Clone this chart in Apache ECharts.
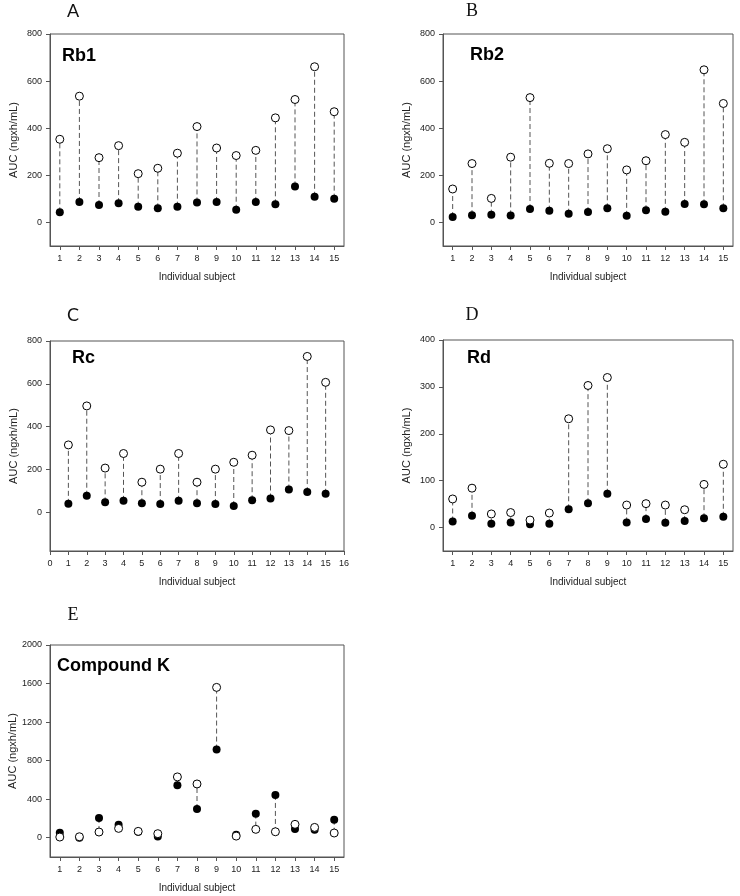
<!DOCTYPE html>
<html>
<head>
<meta charset="utf-8">
<script src="https://cdn.jsdelivr.net/npm/echarts@6/dist/echarts.min.js"></script>
<style>
html,body{margin:0;padding:0;background:#fff;}
#chart{width:740px;height:896px;}
</style>
</head>
<body>
<div id="chart"></div>
<script>
// ---- data ----
var subjects = [1,2,3,4,5,6,7,8,9,10,11,12,13,14,15];

var rb1Open   = [353,536,275,326,207,230,294,407,316,284,306,444,522,661,470];
var rb1Filled = [43,87,74,82,67,60,67,85,87,54,87,77,153,109,101];

var rb2Open   = [142,250,102,277,530,251,250,291,313,223,262,373,340,648,505];
var rb2Filled = [23,31,33,30,57,50,37,44,60,28,52,45,78,77,60];

var rcOpen    = [315,497,207,275,141,202,275,141,202,234,267,385,382,728,607];
var rcFilled  = [40,78,47,54,43,39,54,43,39,30,57,65,107,95,87];

var rdOpen    = [61,84,29,32,16,31,232,303,320,48,51,48,38,92,135];
var rdFilled  = [13,25,8,11,7,8,39,52,72,11,18,10,14,20,23];

var ckOpen    = [7,10,59,97,66,42,631,558,1560,17,87,62,139,107,49];
var ckFilled  = [52,0,205,135,62,14,544,298,915,31,250,444,90,83,187];

var ticksA = [0,200,400,600,800];
var ticksD = [0,100,200,300,400];
var ticksE = [0,400,800,1200,1600,2000];
var ticksXC = [0,1,2,3,4,5,6,7,8,9,10,11,12,13,14,15,16];

var panels = [
  {letter:'A', name:'Rb1', open:rb1Open, filled:rb1Filled, ymin:-100, ymax:800, yticks:ticksA, xmin:0.5, xmax:15.5, xticks:subjects},
  {letter:'B', name:'Rb2', open:rb2Open, filled:rb2Filled, ymin:-100, ymax:800, yticks:ticksA, xmin:0.5, xmax:15.5, xticks:subjects},
  {letter:'C', name:'Rc', open:rcOpen, filled:rcFilled, ymin:-180, ymax:800, yticks:ticksA, xmin:0, xmax:16, xticks:ticksXC},
  {letter:'D', name:'Rd', open:rdOpen, filled:rdFilled, ymin:-50, ymax:400, yticks:ticksD, xmin:0.5, xmax:15.5, xticks:subjects},
  {letter:'E', name:'Compound K', open:ckOpen, filled:ckFilled, ymin:-200, ymax:2000, yticks:ticksE, xmin:0.5, xmax:15.5, xticks:subjects}
];

// ---- layout ----
var grids = [
  {left:50, top:34, width:294, height:212},
  {left:443, top:34, width:290, height:212},
  {left:50, top:341, width:294, height:210},
  {left:443, top:340, width:290, height:211},
  {left:50, top:645, width:294, height:212}
];
var letterPos = [
  {x:73, y:11, font:'Lato'},
  {x:472, y:11, font:'Liberation Serif'},
  {x:73, y:315, font:'Lato'},
  {x:472, y:315, font:'Liberation Serif'},
  {x:73, y:615, font:'Liberation Serif'}
];
var namePos = [
  {x:62, y:47}, {x:470, y:46}, {x:72, y:349}, {x:467, y:349}, {x:57, y:657}
];

var axisColor = '#555';
var textColor = '#222';
var labelFont = 'Liberation Sans, Arial, sans-serif';
function plain(v){ return String(v); }

var option = {
  animation:false,
  backgroundColor:'#fff',
  grid:[], xAxis:[], yAxis:[], series:[], graphic:[]
};

panels.forEach(function(p, i){
  var g = grids[i];
  option.grid.push({left:g.left, top:g.top, width:g.width, height:g.height,
    show:true, borderColor:axisColor, borderWidth:1, backgroundColor:'transparent'});
  option.xAxis.push({
    type:'value', gridIndex:i, min:p.xmin, max:p.xmax,
    name:'Individual subject', nameLocation:'middle', nameGap:26,
    nameTextStyle:{fontFamily:labelFont, fontSize:10, color:textColor},
    axisLine:{show:true, onZero:false, lineStyle:{color:axisColor}},
    axisTick:{show:true, length:4, customValues:p.xticks, lineStyle:{color:axisColor}},
    axisLabel:{customValues:p.xticks, formatter:plain, fontFamily:labelFont, fontSize:9, color:textColor, margin:8},
    splitLine:{show:false}
  });
  option.yAxis.push({
    type:'value', gridIndex:i, min:p.ymin, max:p.ymax,
    name:'AUC (ngxh/mL)', nameLocation:'middle', nameGap:31,
    nameTextStyle:{fontFamily:labelFont, fontSize:11, color:textColor},
    axisLine:{show:true, onZero:false, lineStyle:{color:axisColor}},
    axisTick:{show:true, length:4, customValues:p.yticks, lineStyle:{color:axisColor}},
    axisLabel:{customValues:p.yticks, formatter:plain, fontFamily:labelFont, fontSize:9, color:textColor, margin:8},
    splitLine:{show:false}
  });
  var pairData = subjects.map(function(s, k){ return [s, p.filled[k], p.open[k]]; });
  option.series.push({
    type:'custom', xAxisIndex:i, yAxisIndex:i, z:1, silent:true,
    data:pairData,
    renderItem:function(params, api){
      var x = api.value(0);
      var a = api.coord([x, api.value(1)]);
      var b = api.coord([x, api.value(2)]);
      return {type:'line', shape:{x1:a[0], y1:a[1], x2:b[0], y2:b[1]},
        style:{stroke:'#555', lineWidth:1, lineDash:[5,3]}};
    }
  });
  option.series.push({
    type:'scatter', xAxisIndex:i, yAxisIndex:i, z:2, symbol:'circle', symbolSize:8,
    itemStyle:{color:'#000', opacity:1},
    data:subjects.map(function(s,k){ return [s, p.filled[k]]; })
  });
  option.series.push({
    type:'scatter', xAxisIndex:i, yAxisIndex:i, z:3, symbol:'circle', symbolSize:8,
    itemStyle:{color:'#fff', borderColor:'#000', borderWidth:1, opacity:1},
    data:subjects.map(function(s,k){ return [s, p.open[k]]; })
  });
  var lp = letterPos[i];
  option.graphic.push({type:'text', x:lp.x, y:lp.y, z:10,
    style:{text:p.letter, font:'18px ' + lp.font, fill:'#111', align:'center', verticalAlign:'middle'}});
  var np = namePos[i];
  option.graphic.push({type:'text', x:np.x, y:np.y, z:10,
    style:{text:p.name, font:'bold 18px Liberation Sans, Arial, sans-serif', fill:'#000', align:'left', verticalAlign:'top'}});
});

var chart = echarts.init(document.getElementById('chart'), null, {renderer:'canvas'});
chart.setOption(option);
</script>
</body>
</html>
